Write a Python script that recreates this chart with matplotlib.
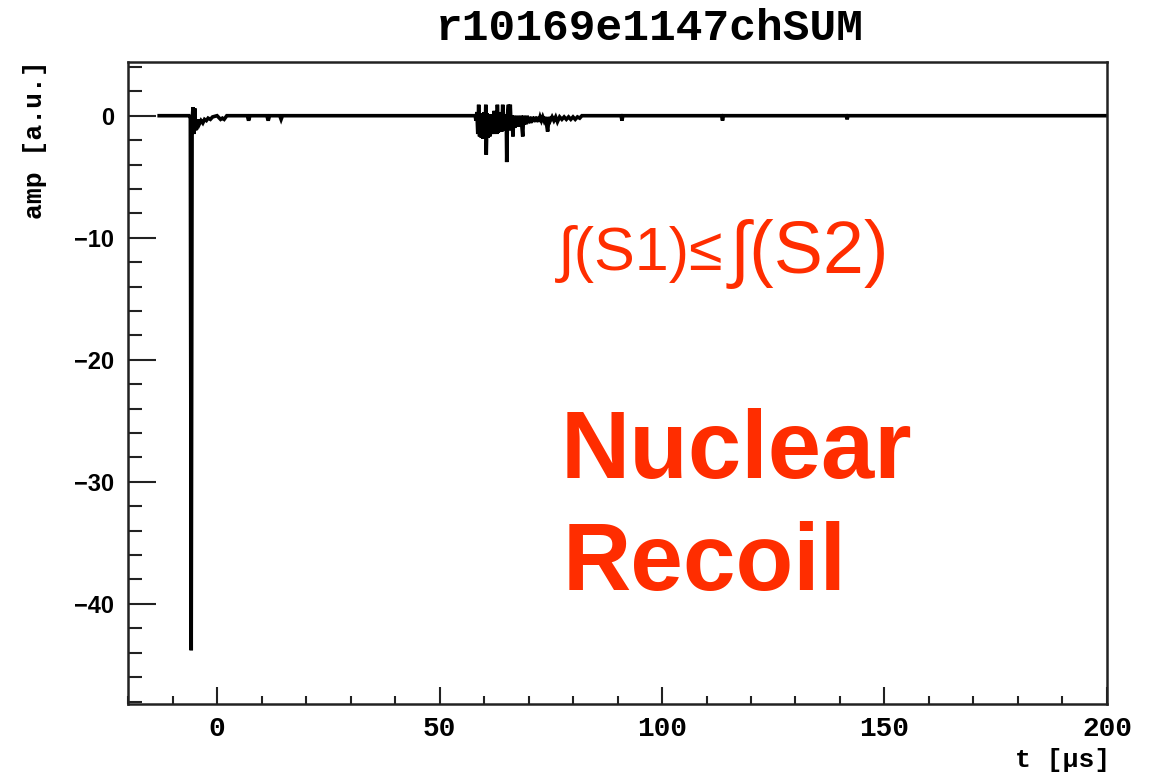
import matplotlib
matplotlib.use('Agg')
import matplotlib.pyplot as plt
from matplotlib.ticker import MultipleLocator

# waveform: time (us) and amplitude (a.u.)
# S1 pulse and its tail
t_s1 = [-13.0, -6.3, -6.0, -5.8, -5.6, -5.4, -5.2, -5.0, -4.8, -4.6, -4.4, -4.2,
        -4.0, -3.6, -3.2, -2.8, -2.4, -2.0, -1.5, -1.0, 0.0, 0.8, 1.2, 1.6, 2.2,
        6.8, 7.1, 7.4, 11.2, 11.5, 11.8, 14.1, 14.4, 14.7]
amp_s1 = [0.0, 0.0, -0.2, -43.8, -0.5, 0.7, -1.5, 0.6, -1.2, -0.4, -0.9, -0.3,
          -0.7, -0.4, -0.6, -0.3, -0.4, -0.2, -0.3, -0.1, 0.0, -0.3, -0.2, -0.3, 0.0,
          0.0, -0.4, 0.0, 0.0, -0.4, 0.0, 0.0, -0.3, 0.0]

# S2 pulse train
t_s2 = [58.0, 58.2, 58.4, 58.6, 58.8, 59.0, 59.2, 59.4, 59.6, 59.8, 60.0, 60.2,
        60.4, 60.5, 60.7, 60.9, 61.1, 61.3, 61.5, 61.7, 61.9, 62.1, 62.3, 62.5,
        62.7, 62.9, 63.0, 63.2, 63.4, 63.6, 63.8, 64.0, 64.2, 64.4, 64.6, 64.8,
        65.0, 65.1, 65.3, 65.5, 65.7, 65.9, 66.1, 66.3, 66.5, 66.7, 66.9, 67.1,
        67.3, 67.5, 67.7, 67.9, 68.1, 68.3, 68.5, 68.7, 68.9, 69.1, 69.3, 69.5,
        69.7, 69.9, 70.2, 70.5, 70.8, 71.1, 71.4, 71.7, 72.0, 72.3, 72.6, 72.9,
        73.2, 73.5, 73.8, 74.3, 74.6, 74.9, 75.3, 75.7, 76.1, 76.5, 77.0, 77.5,
        78.0, 78.5, 79.0, 79.5, 80.0, 80.5, 81.0, 81.5, 82.0]
amp_s2 = [0.0, -0.4, 0.3, -1.5, 0.9, -1.7, 0.2, -1.8, 0.0, -1.9, 0.3, -1.8,
          0.9, -3.2, 0.2, -1.8, 0.0, -1.7, 0.1, -1.5, 0.0, -1.5, 0.4, -1.4,
          0.2, -1.5, 0.9, -1.4, 0.0, -1.3, 0.3, -1.3, 0.9, -1.2, 0.1, -1.2,
          0.0, -3.8, 0.2, 0.9, -1.2, 0.9, -1.1, 0.0, -1.7, 0.0, -1.0, -0.1,
          -0.9, 0.0, -0.9, -0.1, -0.8, 0.0, -0.8, -1.7, 0.0, -0.7, -0.1, -0.7,
          0.0, -0.6, -0.1, -0.6, -0.1, -0.5, -0.1, -0.5, -0.1, -0.5, -0.1, -0.4,
          -0.1, -0.4, -0.1, -1.3, -0.1, -0.4, -0.1, -0.4, -0.1, -0.5, -0.1, -0.3,
          -0.1, -0.3, -0.1, -0.3, -0.1, -0.3, -0.1, -0.2, 0.0]

# isolated single-photon blips after S2
t_late = [90.8, 91.0, 91.2, 113.4, 113.6, 113.8, 141.4, 141.6, 141.8, 200.0]
amp_late = [0.0, -0.4, 0.0, 0.0, -0.4, 0.0, 0.0, -0.3, 0.0, 0.0]

title = 'r10169e1147chSUM'
RED = '#ff2d00'
MONO = ['Liberation Mono', 'DejaVu Sans Mono']
SANS = ['Liberation Sans', 'DejaVu Sans']

t_us = t_s1 + t_s2 + t_late
amp = amp_s1 + amp_s2 + amp_late

fig = plt.figure(figsize=(11.65, 7.76), dpi=100)
ax = fig.add_axes([0.1099, 0.0928, 0.8403, 0.8273])

ax.plot(t_us, amp, color='black', linewidth=2.6, solid_joinstyle='miter')

ax.set_xlim(-20, 200)
ax.set_ylim(-48.2, 4.4)
ax.xaxis.set_major_locator(MultipleLocator(50))
ax.xaxis.set_minor_locator(MultipleLocator(10))
ax.yaxis.set_major_locator(MultipleLocator(10))
ax.yaxis.set_minor_locator(MultipleLocator(2))

ax.tick_params(axis='both', which='both', direction='in', top=False, right=False,
               width=1.5, color='#222')
ax.tick_params(axis='x', which='major', length=12.5, pad=9)
ax.tick_params(axis='x', which='minor', length=6)
ax.tick_params(axis='y', which='major', length=20, pad=10)
ax.tick_params(axis='y', which='minor', length=10)

for lab in ax.get_xticklabels():
    lab.set_family(MONO)
    lab.set_fontweight('bold')
    lab.set_fontsize(20)
for lab in ax.get_yticklabels():
    lab.set_family(SANS)
    lab.set_fontweight('bold')
    lab.set_fontsize(17)

for sp in ax.spines.values():
    sp.set_linewidth(1.8)
    sp.set_color('#222')

fig.text(0.558, 0.963, title, family=MONO, fontweight='bold', fontsize=32,
         ha='center', va='center')
fig.text(0.953, 0.021, 't [\u03bcs]', family=MONO, fontweight='bold', fontsize=19,
         ha='right', va='center')
fig.text(0.030, 0.922, 'amp [a.u.]', family=MONO, fontweight='bold', fontsize=19,
         ha='center', va='top', rotation=90)

# annotations
fig.text(0.479, 0.652, '\u222b(S1)\u2264', family=SANS, fontsize=44, color=RED,
         va='baseline', ha='left')
fig.text(0.626, 0.648, '\u222b(S2)', family=SANS, fontsize=53, color=RED,
         va='baseline', ha='left')
fig.text(0.481, 0.384, 'Nuclear', family=SANS, fontweight='bold', fontsize=69,
         color=RED, va='baseline', ha='left')
fig.text(0.483, 0.240, 'Recoil', family=SANS, fontweight='bold', fontsize=68,
         color=RED, va='baseline', ha='left')

fig.savefig('out.png', dpi=100, facecolor='white')
